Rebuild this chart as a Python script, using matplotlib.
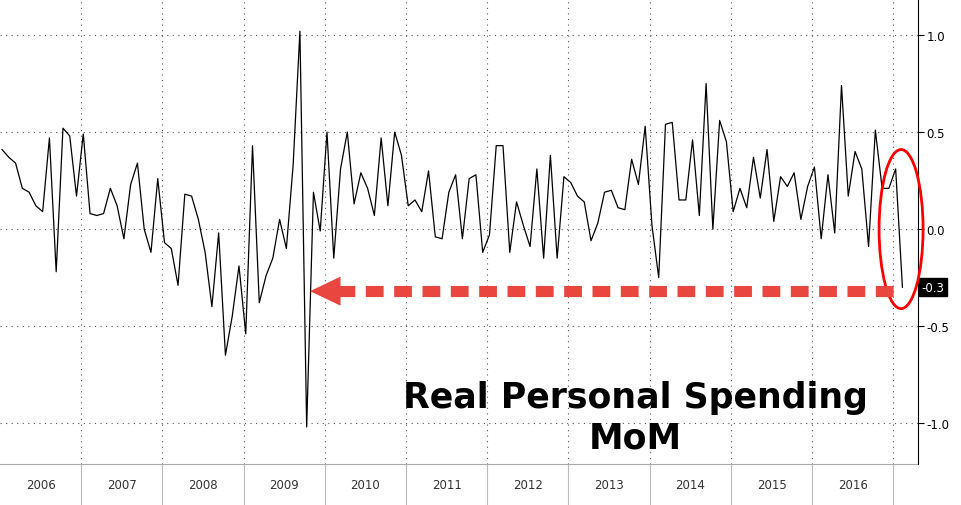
import matplotlib
matplotlib.use("Agg")
import matplotlib.pyplot as plt
from matplotlib.patches import Ellipse, Polygon
import matplotlib.transforms as mtransforms

values = [0.41,0.37,0.34,0.21,0.19,0.12,0.09,0.47,-0.22,0.52,0.48,0.17,0.49,0.08,0.07,0.08,0.21,0.12,-0.05,0.23,0.34,0.0,-0.12,0.26,-0.07,-0.10,-0.29,0.18,0.17,0.05,-0.12,-0.40,-0.02,-0.65,-0.45,-0.19,-0.54,0.43,-0.38,-0.24,-0.15,0.05,-0.10,0.33,1.02,-1.02,0.19,-0.01,0.50,
          -0.15,0.31,0.50,0.13,0.29,0.21,0.07,0.47,0.12,0.50,0.38,0.12,0.15,0.09,0.30,-0.04,-0.05,0.19,0.28,-0.05,0.26,0.28,-0.12,-0.03,0.43,0.43,-0.12,0.14,0.02,-0.09,0.31,-0.15,0.38,-0.15,0.27,0.24,0.17,0.14,-0.06,0.03,0.19,0.20,0.11,0.10,0.36,0.23,0.53,
          0.02,-0.25,0.54,0.55,0.15,0.15,0.46,0.07,0.75,0.0,0.56,0.45,0.09,0.21,0.11,0.37,0.16,0.41,0.04,0.27,0.22,0.29,0.05,0.22,0.32,-0.05,0.28,-0.02,0.74,0.17,0.40,0.31,-0.09,0.51,0.21,0.21,0.31,-0.30]
years = ["2006","2007","2008","2009","2010","2011","2012","2013","2014","2015","2016"]
yticks = [1.0, 0.5, 0.0, -0.5, -1.0]
last_label = "-0.3"
title = "Real Personal Spending\nMoM"

year_len = 12

fig = plt.figure(figsize=(9.61, 5.06), dpi=100)
ax = fig.add_axes([0, 41/506, 918/961, 465/506])
x = list(range(len(values)))
ax.plot(x, values, color="black", lw=0.9, zorder=3)
ax.set_xlim(-0.3, 135.3)
ax.set_ylim(-1.211, 1.186)

bounds = [11.67 + year_len * k for k in range(-1, 11)]
bounds[0] = -0.3
for b in bounds[1:]:
    ax.axvline(b, color="#555555", ls=(0, (1, 4)), lw=0.8)
for t in yticks:
    ax.axhline(t, color="#555555", ls=(0, (1, 4)), lw=0.8)

ax.yaxis.tick_right()
ax.set_yticks(yticks)
ax.set_yticklabels([f"{t:.1f}" for t in yticks], fontsize=8.5)
ax.tick_params(axis="y", direction="out", length=4, pad=2)
ax.set_xticks([])
for s in ["top", "left", "bottom"]:
    ax.spines[s].set_visible(False)
ax.spines["right"].set_color("black")

# year band
trans = mtransforms.blended_transform_factory(ax.transData, ax.transAxes)
band_bounds = bounds + [bounds[-1] + year_len]
for i, yr in enumerate(years):
    c = (band_bounds[i] + band_bounds[i + 1]) / 2
    ax.text(c, -0.045, yr, transform=trans, ha="center", va="center", fontsize=8.5, color="#333333")
for b in band_bounds[1:]:
    ax.plot([b, b], [0, -0.088], transform=trans, color="#bbbbbb", lw=0.8, clip_on=False)
ax.plot([-0.3, 135.3], [0, 0], transform=trans, color="#aaaaaa", lw=0.8, clip_on=False)

# annotations
n = len(values) - 1
ax.add_patch(Ellipse((n - 0.2, 0.0), 6.5, 0.82, fill=False, ec="red", lw=2, clip_on=False, zorder=4))
ya = values[-1] - 0.02
ax.plot([49.5, n - 1], [ya, ya], color="#e8463f", lw=8, ls=(0, (1.6, 0.95)),
        dash_capstyle="butt", zorder=4)
ax.add_patch(Polygon([(45.5, ya), (50.0, ya + 0.075), (50.0, ya - 0.075)], closed=True,
                     fc="#e8463f", ec="none", zorder=4))
ax.text(1.004, (values[-1] + 1.211) / 2.397, last_label, transform=ax.transAxes, ha="left", va="center",
        fontsize=8.5, color="white", bbox=dict(boxstyle="square,pad=0.2", fc="black", ec="black"))
ax.text(93.5, -0.97, title, ha="center", va="center", fontsize=25, fontweight="bold",
        linespacing=1.25)

fig.savefig("out.png", dpi=100)
